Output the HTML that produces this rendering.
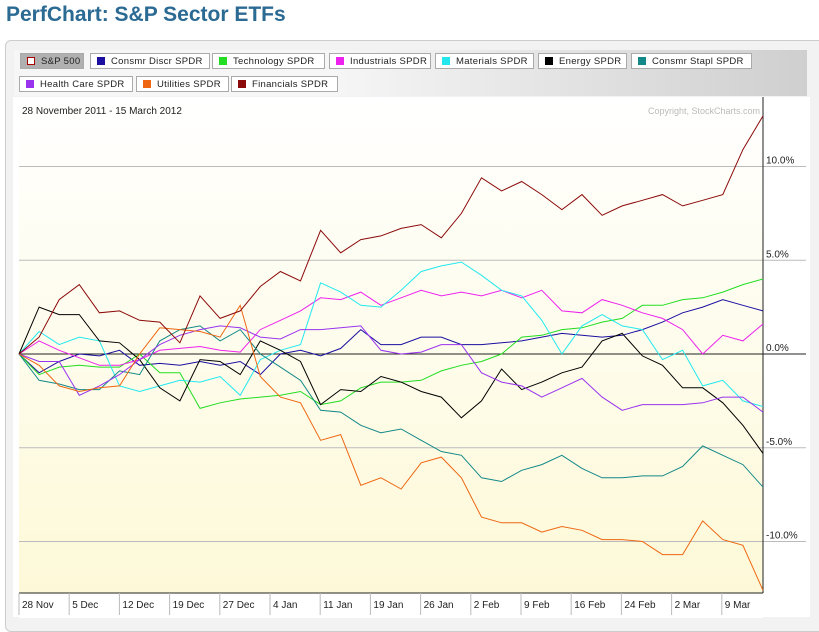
<!DOCTYPE html>
<html><head><meta charset="utf-8"><style>
body{margin:0;width:819px;height:619px;overflow:hidden;background:#fff;font-family:"Liberation Sans",Arial,sans-serif;}
#title{position:absolute;left:6px;top:3px;font-size:21px;font-weight:bold;color:#2b6a93;}
#panel{position:absolute;left:5px;top:40px;width:820px;height:590px;border:1px solid #ccc;border-radius:6px;background:#f2f2f2;}
.leg{position:absolute;height:16px;border:1px solid #aaa;background:#fff;font-size:9.5px;letter-spacing:0.3px;line-height:16px;padding:0 6px;box-sizing:border-box;white-space:nowrap;color:#222;}
.leg i{display:inline-block;width:8px;height:8px;margin-right:6px;vertical-align:-1px;}
</style></head><body>
<div id="title">PerfChart: S&amp;P Sector ETFs</div>
<div id="panel"></div>
<div style="position:absolute;left:14px;top:50px;width:793px;height:46px;background:linear-gradient(90deg,#f6f6f6 40%,#cfcfcf);"></div>
<div id="legend"></div>
<svg id="chart" width="819" height="619" style="position:absolute;left:0;top:0"></svg>
<script>
const seriesNames=["Consmr Discr SPDR","Technology SPDR","Industrials SPDR","Materials SPDR","Energy SPDR","Consmr Stapl SPDR","Health Care SPDR","Utilities SPDR","Financials SPDR"];
const seriesColors=["#1a0fa0","#22dd22","#ee22ee","#22e8ee","#000000","#128888","#9933ee","#ee6611","#8b0a0a"];
const xLabels=["28 Nov","5 Dec","12 Dec","19 Dec","27 Dec","4 Jan","11 Jan","19 Jan","26 Jan","2 Feb","9 Feb","16 Feb","24 Feb","2 Mar","9 Mar"];
const yTicks=[10,5,0,-5,-10];
const consDisc=[0,-1.0,-0.4,0,-0.1,0.2,-0.6,-0.5,-0.6,-0.4,-0.6,-0.4,-1.1,0,0.2,-0.1,0.3,1.3,0.5,0.5,0.9,0.9,0.5,0.5,0.6,0.7,0.9,1.1,1.0,0.9,1.0,1.3,1.7,2.2,2.5,2.9,2.6,2.3];
const tech=[0,-1.1,-0.7,-0.6,-0.7,-0.7,0,-1.0,-1.0,-2.9,-2.6,-2.4,-2.3,-2.2,-2.0,-2.7,-2.5,-1.8,-1.5,-1.5,-1.4,-0.9,-0.6,-0.4,0,0.9,1.0,1.3,1.4,1.7,1.9,2.6,2.6,2.9,3.0,3.3,3.7,4.0];
const industrials=[0,0.7,0.2,-0.2,-0.6,-0.6,-0.3,0.2,0.3,0.4,0.2,0.1,1.3,1.8,2.3,3.0,2.9,3.3,2.6,3.0,3.4,3.1,3.3,3.1,3.4,3.0,3.4,2.3,2.2,2.9,2.6,2.2,1.9,1.3,0,1.0,0.7,1.6];
const materials=[0,1.2,0.5,0.9,0.7,-1.7,-2.0,-1.7,-1.4,-1.5,-1.2,-2.2,-0.3,0.2,0.5,3.8,3.3,2.6,2.5,3.4,4.4,4.7,4.9,4.2,3.4,3.1,1.8,0,1.5,2.1,1.5,1.3,-0.3,0.2,-1.7,-1.4,-2.5,-2.8];
const energy=[0,2.5,2.1,2.1,0.7,0.6,-0.3,-1.8,-2.5,-0.3,-0.4,-1.1,0.7,0.2,-0.4,-2.7,-1.9,-2.0,-1.2,-1.5,-2.0,-2.3,-3.4,-2.5,-0.8,-1.9,-1.5,-1.0,-0.7,0.7,1.1,-0.1,-0.6,-1.8,-1.8,-2.6,-3.8,-5.3];
const staples=[0,-1.4,-1.6,-1.9,-1.9,-0.9,-1.1,0.7,1.3,1.5,0.7,1.3,0,-0.7,-1.4,-3.0,-3.1,-3.8,-4.2,-4.0,-4.6,-5.2,-5.4,-6.6,-6.8,-6.2,-5.9,-5.4,-6.1,-6.6,-6.6,-6.5,-6.5,-6.0,-4.9,-5.4,-5.9,-7.1];
const health=[0,-0.4,-0.4,-2.2,-1.7,-1.1,-0.3,0.5,1.0,1.3,1.5,1.4,0.9,0.8,1.3,1.3,1.4,1.5,0.2,0,0.1,0.5,0.5,-1.0,-1.5,-1.7,-2.3,-1.8,-1.3,-2.3,-3.0,-2.7,-2.7,-2.7,-2.6,-2.3,-2.3,-3.1];
const utilities=[0,-0.6,-1.7,-2.0,-1.8,-1.7,0,1.4,1.3,1.2,0.9,2.6,-1.2,-2.3,-2.6,-4.6,-4.3,-7.0,-6.6,-7.2,-5.8,-5.5,-6.6,-8.7,-9.0,-9.0,-9.5,-9.2,-9.4,-9.9,-9.9,-10.0,-10.7,-10.7,-8.9,-9.9,-10.2,-12.6];
const financials=[0,0.9,2.9,3.7,2.2,2.3,1.8,1.7,0.6,3.1,1.9,2.3,3.6,4.4,3.9,6.6,5.4,6.1,6.3,6.7,6.9,6.2,7.5,9.4,8.7,9.2,8.5,7.7,8.5,7.4,7.9,8.2,8.5,7.9,8.2,8.5,10.9,12.7];
const allSeries=[consDisc,tech,industrials,materials,energy,staples,health,utilities,financials];
const X0=19,X1=763,Y0=97,Y1=593;
const xPos=i=>X0+(X1-X0)*i/(consDisc.length-1);
const yPos=v=>354-v*18.75;
const NS="http://www.w3.org/2000/svg";
const svg=document.getElementById('chart');
function mk(t,a,p){const e=document.createElementNS(NS,t);for(const k in a)e.setAttribute(k,a[k]);(p||svg).appendChild(e);return e;}
const defs=mk('defs',{});
const g=mk('linearGradient',{id:'bg',x1:0,y1:0,x2:0,y2:1},defs);
mk('stop',{offset:'0','stop-color':'#ffffff'},g);mk('stop',{offset:'1','stop-color':'#fdf9d8'},g);
const plotBg=mk('rect',{x:13,y:Y0,width:797,height:520,fill:'#fff'});


const plot=mk('rect',{x:X0,y:Y0,width:X1-X0,height:Y1-Y0,fill:'url(#bg)'});


const dr=mk('text',{x:22,y:114,'font-size':10,fill:'#222'});dr.textContent='28 November 2011 - 15 March 2012';


const cp=mk('text',{x:760,y:114,'font-size':9,fill:'#bbb','text-anchor':'end'});cp.textContent='Copyright, StockCharts.com';


yTicks.forEach(v=>{
 const y=yPos(v);
 const l=mk('line',{x1:X0,x2:806,y1:y,y2:y,stroke:v===0?'#222':'#bbb','stroke-width':1});
 
 
 const t=mk('text',{x:766,y:y-3,'font-size':10,fill:'#222'});t.textContent=v.toFixed(1)+'%';
 
 
});
mk('line',{x1:X1,x2:X1,y1:Y0,y2:Y1,stroke:'#222'});
mk('line',{x1:X0,x2:X1,y1:Y1,y2:Y1,stroke:'#222'});
mk('rect',{x:X0,y:Y1+1,width:X1-X0,height:24,fill:'#fff'});
xLabels.forEach((s,i)=>{
 const x=X0+i*50.2;
 mk('line',{x1:x,x2:x,y1:Y1,y2:615,stroke:'#bbb'});
 const t=mk('text',{x:x+3,y:608,'font-size':10,fill:'#222'});t.textContent=s;
 
 
});
allSeries.forEach((arr,si)=>{
 const p=mk('polyline',{points:arr.map((v,i)=>xPos(i).toFixed(1)+','+yPos(v).toFixed(1)).join(' '),fill:'none',stroke:seriesColors[si],'stroke-width':1});
 
 
});
const legPos=[[20,53,64],[90,53,120],[212,53,113],[329,53,102],[435,53,99],[538,53,89],[631,53,121],[19,76,114],[136,76,93],[231,76,107]];
const legNames=["S&P 500"].concat(seriesNames);
const legColors=["#fff"].concat(seriesColors);
const legDiv=document.getElementById('legend');
legNames.forEach((n,i)=>{
 const d=document.createElement('div');d.className='leg';
 d.style.left=legPos[i][0]+'px';d.style.top=legPos[i][1]+'px';d.style.width=legPos[i][2]+'px';
 if(i===0){d.style.background='#b0b0b0';}
 d.innerHTML='<i style="background:'+legColors[i]+(i===0?';border:1px solid #a00;box-sizing:border-box':'')+'"></i>'+n.replace('&','&amp;');
 
 
 legDiv.appendChild(d);
});
</script>
</body></html>
